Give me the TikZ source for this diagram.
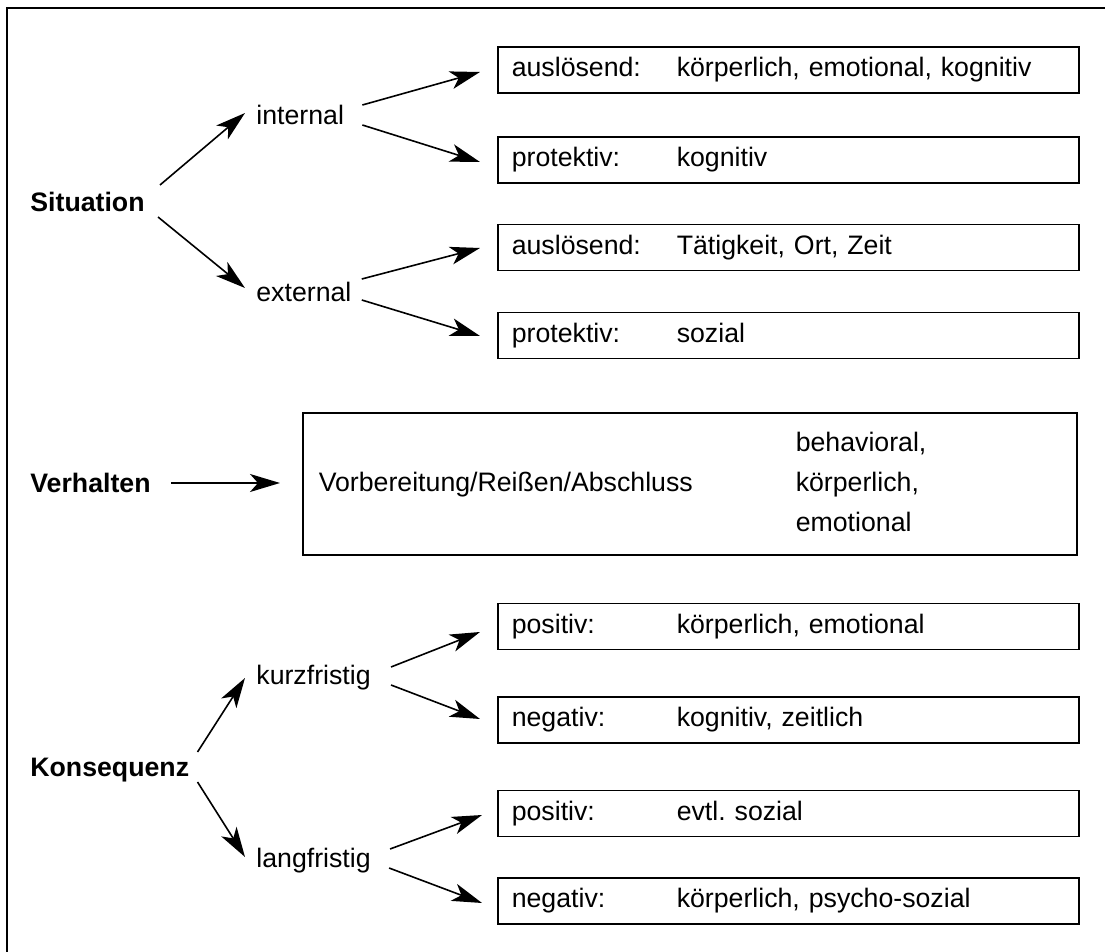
\documentclass[tikz,border=0pt]{standalone}
\usepackage{fontspec}
\setmainfont{Liberation Sans}
\usetikzlibrary{arrows.meta}
\frenchspacing
\newcommand{\dgsize}{\fontsize{13.35}{16}\selectfont}
\newcommand{\tabto}[1]{\makebox[82.5pt][l]{#1}}
\renewcommand{\arraystretch}{1.25}
\tikzset{
  lbl/.style={anchor=west, inner sep=0pt, text height=9.6pt, text depth=0pt, font=\dgsize},
  cat/.style={lbl, font=\dgsize\bfseries},
  entry/.style={draw, line width=0.8pt, anchor=west, minimum width=290.5pt, minimum height=23pt,
    inner xsep=7pt, inner ysep=0pt, text width=276.5pt, align=left, font=\dgsize},
  arr/.style={-{Stealth[length=15pt,width=9pt,inset=4pt]}, line width=0.8pt}
}
\begin{document}
\begin{tikzpicture}[x=0.5pt,y=-0.5pt]
 \useasboundingbox (0,0) rectangle (1105,952);
 \draw[line width=1pt] (7,970)--(7,8)--(1120,8);
 % left column
 \node[cat] (sit) at (30,202) {Situation};
 \node[cat] (verh) at (30,483) {Verhalten};
 \node[cat] (kons) at (30,767) {Konsequenz};
 \node[lbl] (int) at (256,115) {internal};
 \node[lbl] (ext) at (256,292) {external};
 \node[lbl] (kurz) at (256,675) {kurzfristig};
 \node[lbl] (lang) at (256,858) {langfristig};
 % boxes
 \node[entry] (b1) at (497,70) {\tabto{auslösend:}körperlich, emotional, kognitiv};
 \node[entry] (b2) at (497,160) {\tabto{protektiv:}kognitiv};
 \node[entry] (b3) at (497,247.5) {\tabto{auslösend:}Tätigkeit, Ort, Zeit};
 \node[entry] (b4) at (497,335.5) {\tabto{protektiv:}sozial};
 \node[draw, line width=0.8pt, anchor=west, minimum width=387pt, minimum height=71pt,
   inner xsep=8pt, inner ysep=0pt, text width=371pt, align=left, font=\dgsize] (act) at (302,484)
   {\makebox[238.5pt][l]{Vorbereitung/Reißen/Abschluss}\begin{tabular}{@{}l@{}}behavioral,\\körperlich,\\emotional\end{tabular}};
 \node[entry] (b5) at (497,626.5) {\tabto{positiv:}körperlich, emotional};
 \node[entry] (b6) at (497,720) {\tabto{negativ:}kognitiv, zeitlich};
 \node[entry] (b7) at (497,813.5) {\tabto{positiv:}evtl. sozial};
 \node[entry] (b8) at (497,901) {\tabto{negativ:}körperlich, psycho-sozial};
 % arrows
 \draw[arr] ([shift={(15,-17)}]sit.east) -- ([shift={(-11,-2)}]int.west);
 \draw[arr] ([shift={(13,15)}]sit.east) -- ([shift={(-11,-4)}]ext.west);
 \draw[arr] ([shift={(18,-10)}]int.east) -- ([shift={(-17,2)}]b1.west);
 \draw[arr] ([shift={(18,10)}]int.east) -- ([shift={(-17,2)}]b2.west);
 \draw[arr] ([shift={(10,-13)}]ext.east) -- ([shift={(-17,0.5)}]b3.west);
 \draw[arr] ([shift={(10,8)}]ext.east) -- ([shift={(-17,0.5)}]b4.west);
 \draw[arr] ([shift={(20,0)}]verh.east) -- ([shift={(-22,-1)}]act.west);
 \draw[arr] ([shift={(8,-15)}]kons.east) -- ([shift={(-11,3)}]kurz.west);
 \draw[arr] ([shift={(8,15)}]kons.east) -- ([shift={(-11,-1)}]lang.west);
 \draw[arr] ([shift={(20,-8)}]kurz.east) -- ([shift={(-17,5.5)}]b5.west);
 \draw[arr] ([shift={(20,10)}]kurz.east) -- ([shift={(-17,-1)}]b6.west);
 \draw[arr] ([shift={(19,-9)}]lang.east) -- ([shift={(-15,1.5)}]b7.west);
 \draw[arr] ([shift={(18,10)}]lang.east) -- ([shift={(-15,2)}]b8.west);
\end{tikzpicture}
\end{document}
